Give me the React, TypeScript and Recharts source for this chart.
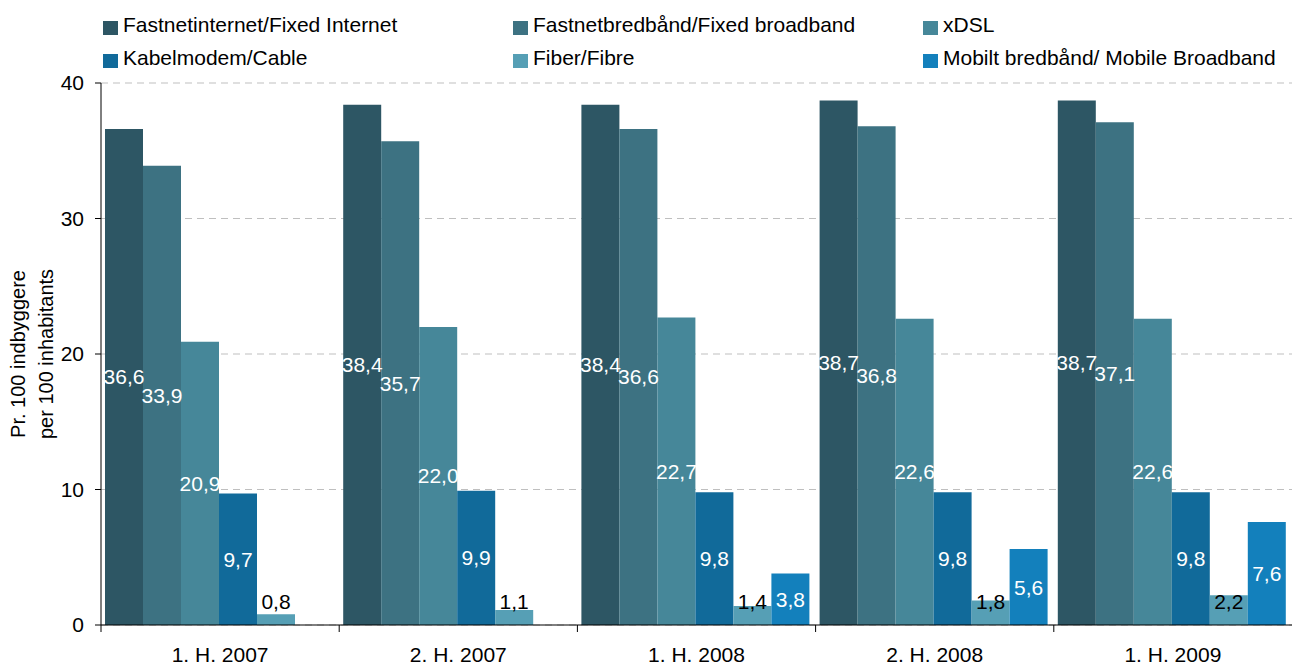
import { BarChart, Bar, XAxis, YAxis, CartesianGrid, Legend, LabelList } from 'recharts';

const periods = ['1. H. 2007', '2. H. 2007', '1. H. 2008', '2. H. 2008', '1. H. 2009'];
const fixedInternet = [36.6, 38.4, 38.4, 38.7, 38.7];
const fixedBroadband = [33.9, 35.7, 36.6, 36.8, 37.1];
const xdsl = [20.9, 22.0, 22.7, 22.6, 22.6];
const cable = [9.7, 9.9, 9.8, 9.8, 9.8];
const fibre = [0.8, 1.1, 1.4, 1.8, 2.2];
const mobile = [null, null, 3.8, 5.6, 7.6];
const yTicks = [0, 10, 20, 30, 40];

const series = [
  { key: 'fixedInternet', name: 'Fastnetinternet/Fixed Internet', color: '#2d5664' },
  { key: 'fixedBroadband', name: 'Fastnetbredbånd/Fixed broadband', color: '#3d7282' },
  { key: 'xdsl', name: 'xDSL', color: '#468799' },
  { key: 'cable', name: 'Kabelmodem/Cable', color: '#116a9a' },
  { key: 'fibre', name: 'Fiber/Fibre', color: '#569fb5' },
  { key: 'mobile', name: 'Mobilt bredbånd/ Mobile Broadband', color: '#1380bc' },
];

const data = periods.map((p, i) => ({
  period: p,
  fixedInternet: fixedInternet[i],
  fixedBroadband: fixedBroadband[i],
  xdsl: xdsl[i],
  cable: cable[i],
  fibre: fibre[i],
  mobile: mobile[i],
}));

const W = 1292;
const H = 666;
const FONT = '"Liberation Sans", Arial, sans-serif';
const FS = 21;
const PLOT_LEFT = 101;
const BAND = (W - PLOT_LEFT) / periods.length;

const fmt = (v: any) => (v == null ? '' : Number(v).toFixed(1).replace('.', ','));

// legend laid out as 3 columns x 2 rows like the original
const legendCols = [103, 513, 923];
const LEGEND_H = 70;

function LegendBox() {
  return (
    <div style={{ position: 'relative', width: W, height: LEGEND_H, fontFamily: FONT, fontSize: FS, color: '#000' }}>
      {series.map((s, i) => (
        <div
          key={s.key}
          style={{
            position: 'absolute',
            left: legendCols[i % 3],
            top: i < 3 ? 13 : 46,
            height: 24,
            lineHeight: '24px',
            display: 'flex',
            alignItems: 'center',
            whiteSpace: 'nowrap',
          }}
        >
          <span style={{ display: 'inline-block', width: 15, height: 14, background: s.color, marginRight: 5, marginTop: 6 }} />
          <span>{s.name}</span>
        </div>
      ))}
    </div>
  );
}

function XTick(props: any) {
  const { x, y, payload } = props;
  const left = x - BAND / 2;
  return (
    <g>
      <line x1={left} y1={y - 8} x2={left} y2={y - 1} stroke="#000" />
      <text x={x} y={y + 29} textAnchor="middle" fontFamily={FONT} fontSize={FS} fill="#000">
        {payload.value}
      </text>
    </g>
  );
}

function YTitle(props: any) {
  const { viewBox } = props;
  const cy = viewBox.y + viewBox.height / 2;
  return (
    <g fontFamily={FONT} fontSize={20} fill="#000">
      <text transform={`translate(25, ${cy}) rotate(-90)`} textAnchor="middle">Pr. 100 indbyggere</text>
      <text transform={`translate(53, ${cy}) rotate(-90)`} textAnchor="middle">per 100 inhabitants</text>
    </g>
  );
}

function FibreLabel(props: any) {
  const { x, y, width, height, value } = props;
  if (value == null) return null;
  return (
    <text x={x + width / 2} y={y + height - 16} textAnchor="middle" fontFamily={FONT} fontSize={FS} fill="#000">
      {fmt(value)}
    </text>
  );
}

export default function App() {
  return (
    <div style={{ position: 'absolute', left: 0, top: 0, background: '#fff' }}>
      <BarChart
        width={W}
        height={H}
        data={data}
        margin={{ top: 83 - LEGEND_H, right: 0, bottom: 0, left: 0 }}
        barCategoryGap={4}
        barGap={0}
      >
        <CartesianGrid vertical={false} stroke="#bfbfbf" strokeDasharray="7 5" />
        <XAxis
          dataKey="period"
          height={41}
          axisLine={{ stroke: '#000' }}
          tickLine={false}
          tick={<XTick />}
          interval={0}
        />
        <YAxis
          width={PLOT_LEFT}
          domain={[0, 40]}
          ticks={yTicks}
          axisLine={{ stroke: '#000' }}
          tickLine={{ stroke: '#000' }}
          tickSize={6}
          tickMargin={11}
          tick={{ fontFamily: FONT, fontSize: FS, fill: '#000' }}
          label={<YTitle />}
        />
        <Legend verticalAlign="top" content={<LegendBox />} wrapperStyle={{ top: 0, left: 0, width: W, height: LEGEND_H }} />
        {series.map((s) => (
          <Bar key={s.key} dataKey={s.key} name={s.name} fill={s.color} isAnimationActive={false}>
            {s.key === 'fibre' ? (
              <LabelList dataKey={s.key} content={<FibreLabel />} />
            ) : (
              <LabelList
                dataKey={s.key}
                position="center"
                formatter={fmt}
                fill="#fff"
                fontFamily={FONT}
                fontSize={FS}
              />
            )}
          </Bar>
        ))}
      </BarChart>
    </div>
  );
}
